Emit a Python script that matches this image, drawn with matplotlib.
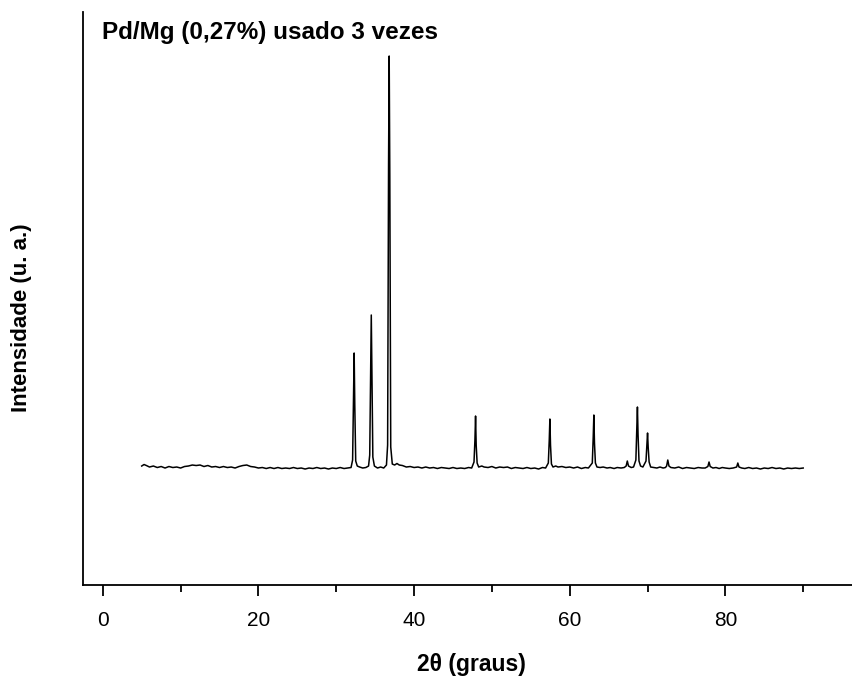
import matplotlib
matplotlib.use("Agg")
import matplotlib.pyplot as plt
from matplotlib.ticker import MultipleLocator

plt.rcParams['font.family'] = ['Liberation Sans', 'DejaVu Sans']

# difratograma (2theta em graus, intensidade em u.a.)
two_theta = [
    5.0, 5.3, 5.6, 6.0, 6.5, 7.0, 7.5, 8.0, 8.5, 9.0, 9.5, 10.0, 10.5, 11.0, 11.5,
    12.0, 12.5, 13.0, 13.5, 14.0, 14.5, 15.0, 15.5, 16.0, 16.5, 17.0, 17.5, 18.0,
    18.5, 19.0, 19.5, 20.0, 20.5, 21.0, 21.5, 22.0, 22.5, 23.0, 23.5, 24.0, 24.5,
    25.0, 25.5, 26.0, 26.5, 27.0, 27.5, 28.0, 28.5, 29.0, 29.5, 30.0, 30.5, 31.0,
    31.5, 31.9,
    32.1, 32.22, 32.3, 32.38, 32.5, 32.7,
    33.0, 33.4, 33.8, 34.15,
    34.3, 34.42, 34.5, 34.58, 34.7, 34.9,
    35.3, 35.7, 36.1, 36.45,
    36.6, 36.72, 36.8, 36.88, 37.0, 37.2,
    37.5, 37.8, 38.1, 38.5, 39.0, 39.5, 40.0, 40.5, 41.0, 41.5, 42.0, 42.5, 43.0,
    43.5, 44.0, 44.5, 45.0, 45.5, 46.0, 46.5, 47.0, 47.4,
    47.7, 47.82, 47.9, 47.98, 48.1, 48.3,
    48.7, 49.0, 49.5, 50.0, 50.5, 51.0, 51.5, 52.0, 52.5, 53.0, 53.5, 54.0, 54.5,
    55.0, 55.5, 56.0, 56.5, 56.9,
    57.25, 57.37, 57.45, 57.53, 57.65, 57.85,
    58.2, 58.5, 59.0, 59.5, 60.0, 60.5, 61.0, 61.5, 62.0, 62.4,
    62.9, 63.02, 63.1, 63.18, 63.3, 63.5,
    63.9, 64.3, 64.8, 65.2, 65.7, 66.1, 66.6, 67.0,
    67.25, 67.4, 67.55,
    67.9, 68.2,
    68.5, 68.62, 68.7, 68.78, 68.9, 69.1, 69.4,
    69.8, 69.92, 70.0, 70.08, 70.2, 70.4,
    70.8, 71.2, 71.6, 72.0, 72.3,
    72.45, 72.6, 72.75,
    73.0, 73.5, 74.0, 74.5, 75.0, 75.5, 76.0, 76.5, 77.0, 77.4,
    77.75, 77.9, 78.05,
    78.4, 78.8, 79.2, 79.6, 80.0, 80.5, 81.0,
    81.45, 81.6, 81.75,
    82.1, 82.5, 83.0, 83.5, 84.0, 84.5, 85.0, 85.5, 86.0, 86.5, 87.0, 87.5, 88.0,
    88.5, 89.0, 89.5, 90.0,
]
intensity = [
    119, 120.5, 119.5, 118, 119, 117.5, 118.5, 117, 118.5, 117.5, 118, 117, 118.5,
    119, 120, 119.5, 120, 118.5, 119.5, 118, 118.5, 117.5, 118.5, 117.5, 118, 117,
    118.5, 119.5, 120, 118.5, 118, 117, 117.5, 116.5, 117.5, 116.5, 117.5, 116.5,
    117, 116.5, 117.5, 116.5, 117, 116, 117, 116.5, 117.5, 116.5, 117, 116, 117,
    116.5, 117.5, 116.5, 117, 117.5,
    125, 190, 232, 180, 124, 119,
    118, 117, 117.5, 119,
    130, 220, 270, 210, 128, 119,
    117, 118, 117, 120,
    140, 420, 529, 410, 138, 121,
    120, 121.5, 120, 119.5, 118, 118.5, 117.5, 118, 117, 118, 117, 117.5, 116.5,
    117.5, 117, 116.5, 117.5, 116.5, 117, 116.5, 117.5, 117,
    123, 145, 169, 140, 122, 118,
    119, 118, 117.5, 118.5, 117, 118, 117.5, 118, 116.5, 117.5, 117, 116.5, 117.5,
    116.5, 117, 116, 117.5, 117,
    122, 145, 166, 140, 121, 118,
    119, 118, 118.5, 117.5, 118, 117, 118, 116.5, 117.5, 117,
    122, 148, 170, 142, 122, 118,
    117.5, 118, 117, 117.5, 116.5, 117.5, 117, 117.5,
    119, 124, 119,
    117.5, 118,
    125, 155, 178, 150, 124, 119, 118,
    124, 140, 152, 138, 123, 118,
    117.5, 117, 118, 117, 117.5,
    119, 125, 119,
    117.5, 117, 118, 116.5, 117.5, 117, 116.5, 117.5, 117, 117,
    118.5, 123, 118.5,
    117, 117.5, 116.5, 117.5, 117, 116.5, 117,
    118, 122, 118,
    117, 116.5, 117.5, 116.5, 117, 116, 117, 116.5, 117.5, 116.5, 117, 116, 117,
    116.5, 117, 116.5, 117,
]

fig = plt.figure(figsize=(8.53, 6.82), dpi=100)
ax = fig.add_axes([0.0977, 0.1422, 0.9023, 0.8402])

ax.plot(two_theta, intensity, color='black', linewidth=1.1)

ax.set_xlim(-2.5, 96.4)
ax.set_ylim(0, 573)

ax.spines['top'].set_visible(False)
ax.spines['right'].set_visible(False)
ax.spines['left'].set_linewidth(1.3)
ax.spines['bottom'].set_linewidth(1.3)

ax.set_yticks([])
ax.xaxis.set_major_locator(MultipleLocator(20))
ax.xaxis.set_minor_locator(MultipleLocator(10))
ax.tick_params(axis='x', which='major', direction='out', length=8, width=1.3,
               labelsize=15, pad=11)
ax.tick_params(axis='x', which='minor', direction='out', length=5, width=1.3)

fig.text(471 / 853, 1 - 664 / 682, '2θ (graus)', ha='center', va='center',
         fontsize=16.5, fontweight='bold')
fig.text(22 / 853, 1 - 318 / 682, 'Intensidade (u. a.)', ha='center', va='center',
         rotation=90, fontsize=16, fontweight='bold')
fig.text(102 / 853, 1 - 33 / 682, 'Pd/Mg (0,27%) usado 3 vezes', ha='left',
         va='center', fontsize=17.5, fontweight='bold')

fig.savefig('out.png', dpi=100)
